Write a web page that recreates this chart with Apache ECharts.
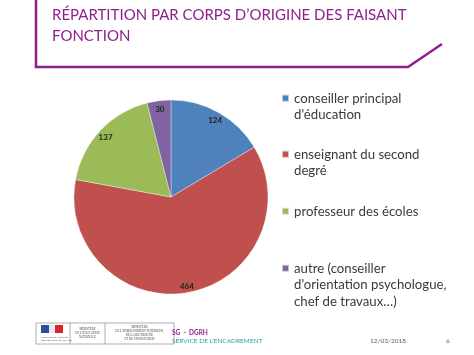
<!DOCTYPE html>
<html><head><meta charset="utf-8">
<script src="https://cdn.jsdelivr.net/npm/echarts@6/dist/echarts.min.js"></script>
<style>html,body{margin:0;padding:0;background:#fff}#c{width:474px;height:355px}</style>
</head><body><div id="c"></div>
<script>
const categories = ["conseiller principal\nd'éducation", "enseignant du second\ndegré", "professeur des écoles", "autre (conseiller\nd'orientation psychologue,\nchef de travaux…)"];
const values = [124, 464, 137, 30];
const colors = ['#4F81BD', '#C0504D', '#9BBB59', '#8064A2'];
const titleText = "RÉPARTITION PAR CORPS D’ORIGINE DES FAISANT\nFONCTION";
const legendTops = [89, 145, 202, 259];

const purple = '#8E1F8C';
const chart = echarts.init(document.getElementById('c'));
const font = 'Lato, "Open Sans", sans-serif';
const lh = 16.5;
const sq = 7;

const data = categories.map((n, i) => ({ name: n, value: values[i], itemStyle: { color: colors[i] } }));

const legends = categories.map((n, i) => {
  const lines = n.split('\n').length;
  const h = lines * lh;
  const a = (lh - sq) / 2;
  const path = 'path://M0,0h0.01v0.01h-0.01z' +
    'M0,' + a + 'h' + sq + 'v' + sq + 'h-' + sq + 'z' +
    'M0,' + (h - 0.01) + 'h0.01v0.01h-0.01z';
  return {
    data: [n], left: 281, top: legendTops[i], orient: 'vertical',
    itemWidth: sq, itemHeight: h, itemGap: 0, padding: 0,
    icon: path, selectedMode: false,
    textStyle: { fontFamily: font, fontSize: 13.2, color: '#3a3a3a', lineHeight: lh }
  };
});

chart.setOption({
  animation: false,
  title: {
    text: titleText, left: 47, top: 0,
    textStyle: { fontFamily: font, fontSize: 15, fontWeight: 'normal', color: purple, lineHeight: 20.5 }
  },
  legend: legends,
  series: [
    {
      type: 'pie', center: [171, 197], radius: [0, 97], startAngle: 90, clockwise: true,
      data: data, label: { show: false }, labelLine: { show: false },
      itemStyle: { borderColor: 'rgba(255,255,255,0.6)', borderWidth: 0.6 },
      emphasis: { disabled: true }
    },
    {
      type: 'pie', center: [171, 198], radius: [0, 173], startAngle: 90, clockwise: true, silent: true,
      data: values.map((v, i) => ({ name: 'lbl' + i, value: v, itemStyle: { color: 'rgba(0,0,0,0)' } })),
      label: { show: true, position: 'inside', formatter: '{c}', fontFamily: font, fontSize: 8, fontWeight: 'bold', color: '#222' },
      labelLine: { show: false }, emphasis: { disabled: true }
    }
  ],
  graphic: [
    { type: 'polyline', shape: { points: [[36, 0], [36, 67], [408, 67], [442, 44]] }, style: { stroke: purple, lineWidth: 2.5, fill: null } },
    { type: 'rect', shape: { x: 36, y: 323, width: 138, height: 21 }, style: { fill: '#fff', stroke: '#9a9a9a', lineWidth: 0.8 } },
    { type: 'line', shape: { x1: 70, y1: 323, x2: 70, y2: 344 }, style: { stroke: '#9a9a9a', lineWidth: 0.8 } },
    { type: 'line', shape: { x1: 105, y1: 323, x2: 105, y2: 344 }, style: { stroke: '#9a9a9a', lineWidth: 0.8 } },
    { type: 'rect', shape: { x: 41, y: 325, width: 8, height: 8 }, style: { fill: '#2b4fa0' } },
    { type: 'rect', shape: { x: 49, y: 325, width: 6, height: 8 }, style: { fill: '#e8e8ee' } },
    { type: 'rect', shape: { x: 55, y: 325, width: 8, height: 8 }, style: { fill: '#d6262b' } },
    { type: 'text', style: { x: 41, y: 336, text: 'Liberté Égalité Fraternité\nRÉPUBLIQUE FRANÇAISE', font: '2.5px sans-serif', fill: '#555', lineHeight: 3 } },
    { type: 'text', style: { x: 87.5, y: 327, text: 'MINISTÈRE\nDE L’ÉDUCATION\nNATIONALE', align: 'center', font: '3px serif', fill: '#444', lineHeight: 4 } },
    { type: 'text', style: { x: 139.5, y: 325, text: 'MINISTÈRE\nDE L’ENSEIGNEMENT SUPÉRIEUR,\nDE LA RECHERCHE\nET DE L’INNOVATION', align: 'center', font: '3px serif', fill: '#444', lineHeight: 4 } },
    { type: 'text', style: { x: 172, y: 329, text: 'SG  -  DGRH', font: 'bold 6.5px ' + font, fill: purple } },
    { type: 'text', style: { x: 172, y: 337, text: 'SERVICE DE L’ENCADREMENT', font: '6.5px ' + font, fill: '#2f9c9c' } },
    { type: 'text', style: { x: 370, y: 337, text: '12/03/2018', font: '6.5px ' + font, fill: '#666' } },
    { type: 'text', style: { x: 446, y: 337, text: '6', font: '6.5px ' + font, fill: '#666' } }
  ]
});
</script></body></html>
